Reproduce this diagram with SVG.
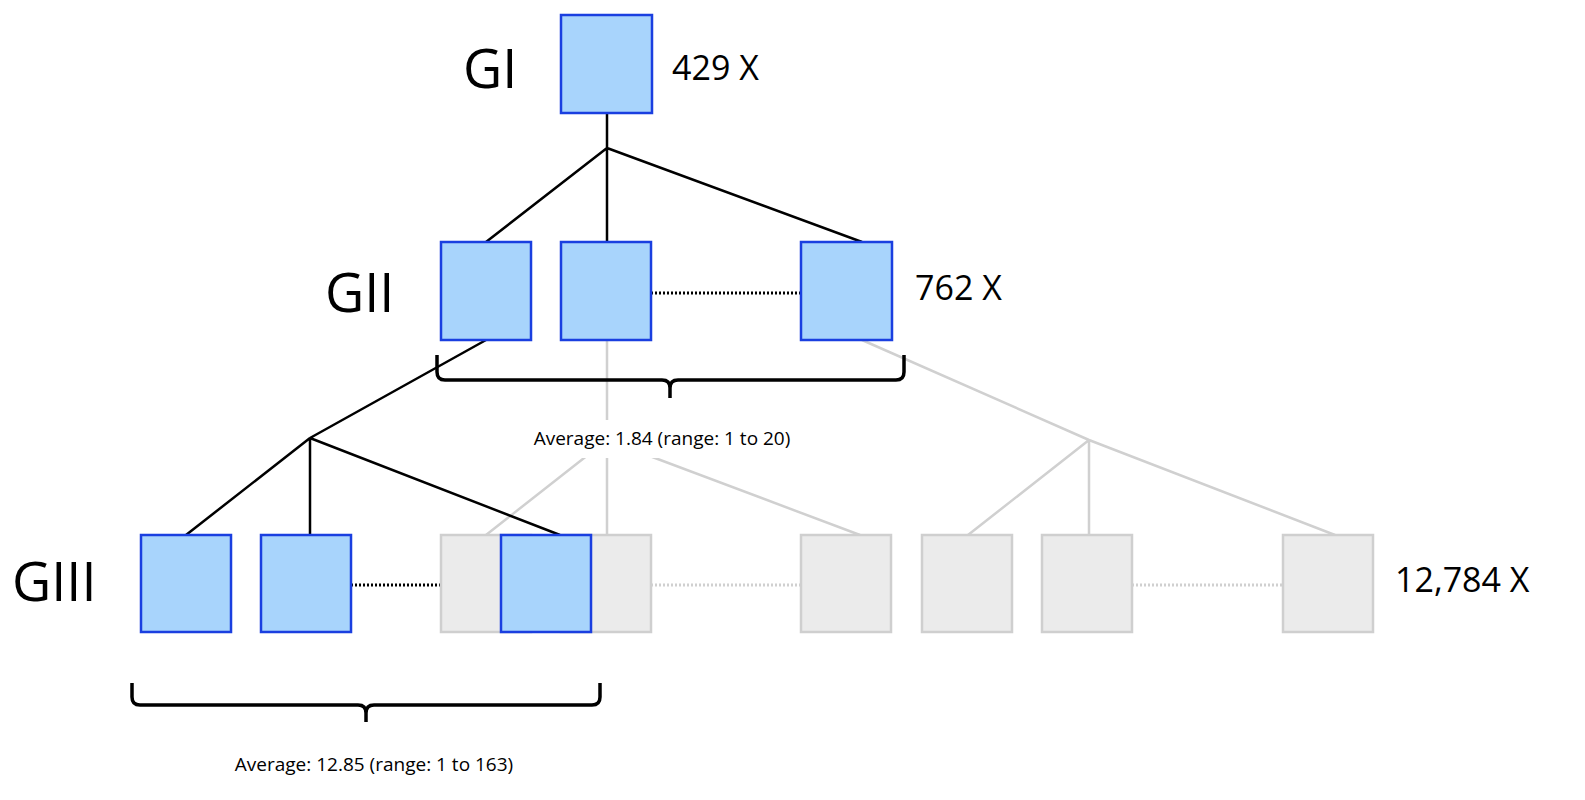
<svg xmlns="http://www.w3.org/2000/svg" width="1585" height="800" viewBox="0 0 1585 800">
<style>
.b{fill:#a8d4fc;stroke:#1a3fe0;stroke-width:2.5}
.g{fill:#ebebeb;stroke:#cfcfcf;stroke-width:2.5}
.k{stroke:#000;stroke-width:2.5;fill:none}
.gl{stroke:#d0d0d0;stroke-width:2.5;fill:none}
.kd{stroke:#000;stroke-width:3;stroke-dasharray:2 2;fill:none}
.gd{stroke:#d0d0d0;stroke-width:3;stroke-dasharray:2 2;fill:none}
.br{stroke:#000;stroke-width:3.5;fill:none}
text{font-family:"Open Sans","Liberation Sans",sans-serif;fill:#000}
.big{font-size:54px}
.mid{font-size:34px}
.sm{font-size:19px}
</style>
<rect width="1585" height="800" fill="#fff"/>
<g id="connectors">
<path class="gl" d="M607 340V535M862 340L1089 440M1089 440L968 535M1089 440V535M1089 440L1335 535M607 440L486 535M607 440L860 535"/>
<path class="gd" d="M651 585H801M1132 585H1283"/>
<path class="k" d="M607 113V148M607 148L486 242M607 148V242M607 148L862 242M486 340L310 438M310 438L186 535M310 438V535M310 438L560 535"/>
<path class="kd" d="M651 293H801M351 585H501"/>
</g>
<g id="label-bg"><rect x="490" y="420" width="345" height="38" fill="#fff"/></g>
<g id="GI"><rect class="b" x="561" y="15" width="91" height="98"/></g>
<g id="GII-1"><rect class="b" x="441" y="242" width="90" height="98"/></g>
<g id="GII-2"><rect class="b" x="561" y="242" width="90" height="98"/></g>
<g id="GII-3"><rect class="b" x="801" y="242" width="91" height="98"/></g>
<g id="GIII-g1"><rect class="g" x="441" y="535" width="90" height="97"/></g>
<g id="GIII-g2"><rect class="g" x="561" y="535" width="90" height="97"/></g>
<g id="GIII-g3"><rect class="g" x="801" y="535" width="90" height="97"/></g>
<g id="GIII-g4"><rect class="g" x="922" y="535" width="90" height="97"/></g>
<g id="GIII-g5"><rect class="g" x="1042" y="535" width="90" height="97"/></g>
<g id="GIII-g6"><rect class="g" x="1283" y="535" width="90" height="97"/></g>
<g id="GIII-1"><rect class="b" x="141" y="535" width="90" height="97"/></g>
<g id="GIII-2"><rect class="b" x="261" y="535" width="90" height="97"/></g>
<g id="GIII-3"><rect class="b" x="501" y="535" width="90" height="97"/></g>
<g id="brackets">
<path class="br" d="M437 355V372Q437 380 445 380H662Q670 380 670 388V398M670 388Q670 380 678 380H896Q904 380 904 372V355"/>
<path class="br" d="M132 683V697Q132 705 140 705H358Q366 705 366 713V722M366 713Q366 705 374 705H592Q600 705 600 697V683"/>
</g>
<g id="labels">
<text class="big" x="463" y="88">GI</text>
<text class="big" x="325" y="312">GII</text>
<text class="big" x="12" y="601">GIII</text>
<text class="mid" x="672" y="80">429 X</text>
<text class="mid" x="915" y="300">762 X</text>
<text class="mid" x="1395" y="592">12,784 X</text>
<text class="sm" x="662" y="445" text-anchor="middle">Average: 1.84 (range: 1 to 20)</text>
<text class="sm" x="374" y="771" text-anchor="middle">Average: 12.85 (range: 1 to 163)</text>
</g>
</svg>
